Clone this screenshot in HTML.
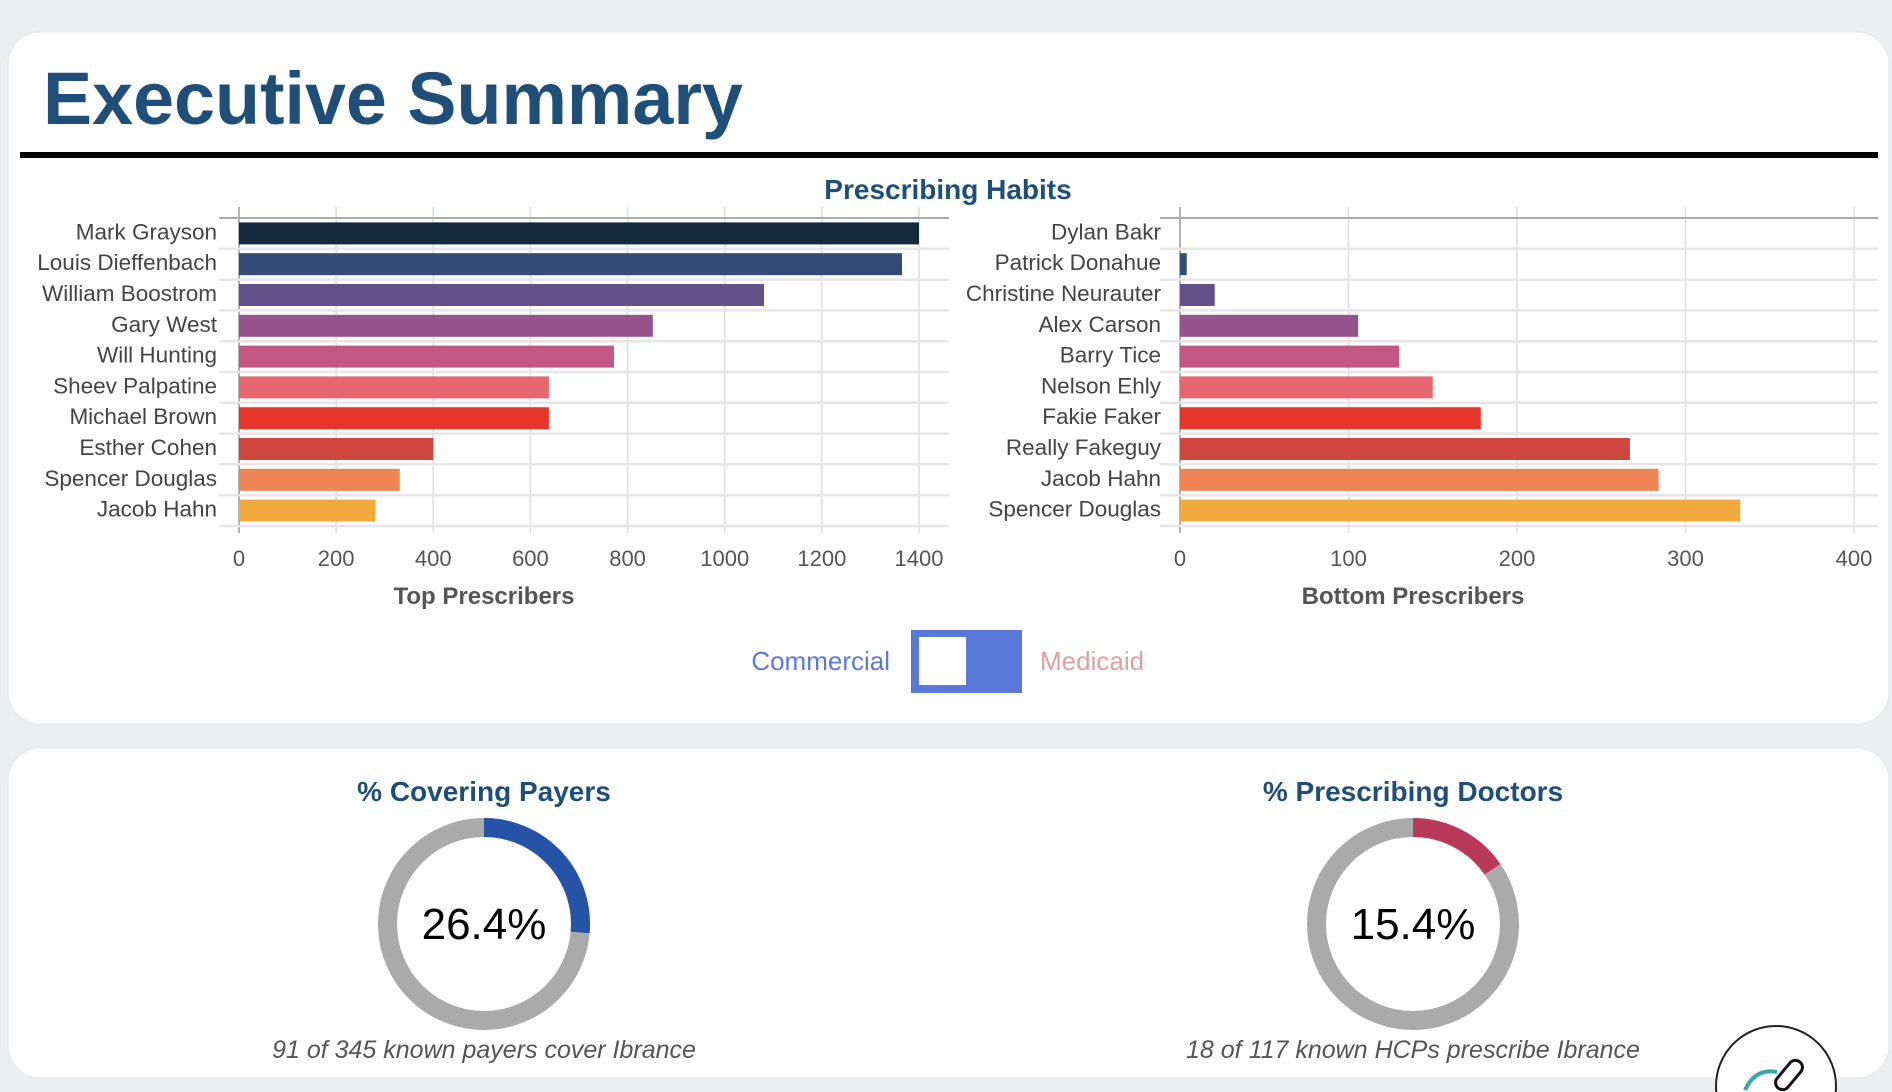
<!DOCTYPE html>
<html><head><meta charset="utf-8">
<style>
html,body{margin:0;padding:0;background:#eceef0;width:1892px;height:1092px;overflow:hidden;font-family:"Liberation Sans",Arial,sans-serif;}
svg{display:block}
</style></head>
<body>
<svg id="root" width="1892" height="1092" viewBox="0 0 1892 1092" xmlns="http://www.w3.org/2000/svg">
  <rect x="0" y="0" width="1892" height="1092" fill="#eceef0"/>
  <rect x="8" y="32" width="1881" height="692" rx="32" fill="#fff" stroke="#e2e4e6"/>
  <rect x="8" y="748" width="1881" height="330" rx="32" fill="#fff" stroke="#e2e4e6"/>
  <text x="43" y="124" font-size="74" font-weight="bold" fill="#1f4e78" textLength="700" lengthAdjust="spacingAndGlyphs">Executive Summary</text>
  <rect x="20" y="152" width="1858" height="6" fill="#000"/>
  <text x="948" y="199" font-size="28" font-weight="bold" fill="#1f4e78" text-anchor="middle">Prescribing Habits</text>
  <g id="leftChart"></g>
  <g id="rightChart"></g>

  <text x="890" y="670" font-size="26" fill="#5b79d8" text-anchor="end">Commercial</text>
  <rect x="911" y="630" width="111" height="63" fill="#5b79d8"/>
  <rect x="919" y="637" width="47" height="48" fill="#fff"/>
  <text x="1040" y="670" font-size="26" fill="#e0a0a0">Medicaid</text>

  <text x="484" y="801" font-size="28" font-weight="bold" fill="#1f4e78" text-anchor="middle">% Covering Payers</text>
  <text x="1413" y="801" font-size="28" font-weight="bold" fill="#1f4e78" text-anchor="middle">% Prescribing Doctors</text>
  <g id="donuts"></g>
  <text x="484" y="1058" font-size="25" font-style="italic" fill="#555" text-anchor="middle">91 of 345 known payers cover Ibrance</text>
  <text x="1413" y="1058" font-size="25" font-style="italic" fill="#555" text-anchor="middle">18 of 117 known HCPs prescribe Ibrance</text>

  <g>
    <circle cx="1776" cy="1086" r="60" fill="#fff" stroke="#222" stroke-width="2"/>
    <path d="M1745 1090 q10 -22 32 -18" fill="none" stroke="#3aa" stroke-width="4"/>
    <rect x="1782" y="1058" width="14" height="34" rx="7" fill="none" stroke="#111" stroke-width="3" transform="rotate(40 1789 1075)"/>
  </g>
</svg>
<script>
const leftNames=["Mark Grayson","Louis Dieffenbach","William Boostrom","Gary West","Will Hunting","Sheev Palpatine","Michael Brown","Esther Cohen","Spencer Douglas","Jacob Hahn"];
const leftValues=[1400,1365,1081,852,772,638,638,400,331,281];
const leftTicks=[0,200,400,600,800,1000,1200,1400];
const rightNames=["Dylan Bakr","Patrick Donahue","Christine Neurauter","Alex Carson","Barry Tice","Nelson Ehly","Fakie Faker","Really Fakeguy","Jacob Hahn","Spencer Douglas"];
const rightValues=[0,4,20.6,105.7,130,150,178.5,267,284,332.5];
const rightTicks=[0,100,200,300,400];
const barColors=["#13293d","#344b78","#635189","#95538c","#c45682","#e5666e","#e8352a","#cf463f","#ef8454","#f2aa3f"];
const donutValues=[26.4,15.4];
const donutLabels=["26.4%","15.4%"];

const NS="http://www.w3.org/2000/svg";
function mk(tag,attrs,parent){const e=document.createElementNS(NS,tag);for(const k in attrs)e.setAttribute(k,attrs[k]);parent.appendChild(e);return e;}

function drawChart(g,names,values,ticks,x0,x1,maxV,gridL,gridR,labelX,title,titleX,prefix){
  const top=218,rowH=30.8;
  const xs=v=>x0+(v/maxV)*(x1-x0);
  ticks.forEach(t=>{
    const l=mk('line',{x1:xs(t),x2:xs(t),y1:207,y2:533,stroke:t===0?'#999':'#ddd','stroke-width':1.5},g);
    
    
    const tx=mk('text',{x:xs(t),y:566,'font-size':22,fill:'#555','text-anchor':'middle'},g);
    tx.textContent=t;
    
    
  });
  for(let i=0;i<=names.length;i++){
    const y=top+i*rowH;
    const l=mk('line',{x1:gridL,x2:gridR,y1:y,y2:y,stroke:i===0?'#aaa':'#e6e6e6','stroke-width':i===0?2:2.5},g);
    
    
  }
  names.forEach((n,i)=>{
    const yc=top+i*rowH+rowH/2;
    const lb=mk('text',{x:labelX,y:yc+6,'font-size':22.5,fill:'#444','text-anchor':'end'},g);
    lb.textContent=n;
    
    
    const w=xs(values[i])-x0;
    const b=mk('rect',{x:x0,y:yc-11,width:Math.max(0,w),height:22,fill:barColors[i]},g);
    
    
  });
  const t=mk('text',{x:titleX,y:604,'font-size':24,'font-weight':'bold',fill:'#555','text-anchor':'middle'},g);
  t.textContent=title;
  
  
}
drawChart(document.getElementById('leftChart'),leftNames,leftValues,leftTicks,239,919,1400,219,949,217,'Top Prescribers',484,'top');
drawChart(document.getElementById('rightChart'),rightNames,rightValues,rightTicks,1180,1854,400,1160,1878,1161,'Bottom Prescribers',1413,'bottom');

const dg=document.getElementById('donuts');
const centers=[[484,924],[1413,924]];
const arcColors=["#2554a6","#b83a58"];
donutValues.forEach((v,i)=>{
  const [cx,cy]=centers[i];const r=96.5;
  const bg=mk('circle',{cx:cx,cy:cy,r:r,fill:'none',stroke:'#aaaaaa','stroke-width':19},dg);
  
  
  const a=v/100*2*Math.PI;
  const ex=cx+r*Math.sin(a),ey=cy-r*Math.cos(a);
  const arc=mk('path',{d:`M${cx} ${cy-r} A${r} ${r} 0 ${v>50?1:0} 1 ${ex} ${ey}`,fill:'none',stroke:arcColors[i],'stroke-width':19},dg);
  
  
  const t=mk('text',{x:cx,y:cy+15,'font-size':44,fill:'#000','text-anchor':'middle'},dg);
  t.textContent=donutLabels[i];
  
  
});
</script>
</body></html>
